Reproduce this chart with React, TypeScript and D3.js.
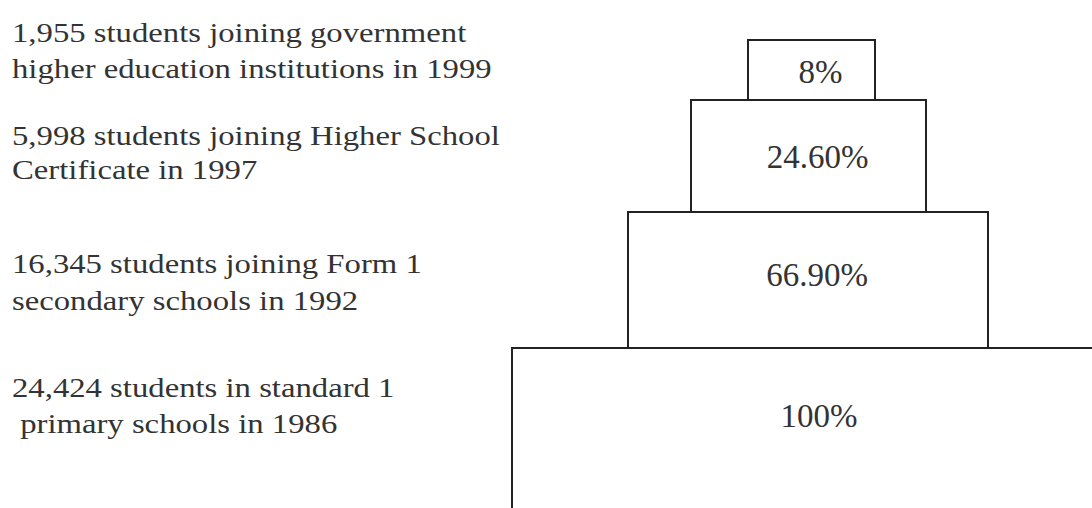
import React from "react";
import * as d3 from "d3";

// ---- data ----
const tiers = ["Higher education 1999", "HSC 1997", "Form 1 1992", "Standard 1 1986"];
const percentValues = [8, 24.6, 66.9, 100];
const percentLabels = ["8%", "24.60%", "66.90%", "100%"];
const descriptionLines: string[][] = [
  ["1,955 students joining government", "higher education institutions in 1999"],
  ["5,998 students joining Higher School", "Certificate in 1997"],
  ["16,345 students joining Form 1", "secondary schools in 1992"],
  ["24,424 students in standard 1", " primary schools in 1986"],
];

const W = 1092;
const H = 508;

export default function App() {
  // vertical tier boundaries (top of each tier, then bottom of last)
  const tierIndex = d3.range(tiers.length + 1);
  const y = d3.scaleLinear().domain(tierIndex).range([40, 100, 212, 348, 530]);
  // half-width of each tier, as drawn in the source figure
  const halfWidth = d3.scaleLinear().domain(percentValues).range([63.5, 117.5, 180, 298]);
  const cx = d3.scaleLinear().domain(percentValues).range([811.5, 808.5, 808, 810]);

  const labelBaselines = [[42, 78], [145, 179], [273, 310], [397, 433]];
  const pctBaselines = [83, 168, 286, 427];

  const stroke = "#222";
  const textColor = "#333";

  return (
    <svg
      width={W}
      height={H}
      style={{ position: "absolute", left: 0, top: 0, background: "#fff" }}
      fontFamily="'Liberation Serif', 'Times New Roman', serif"
    >
      <rect x={0} y={0} width={W} height={H} fill="#fff" />
      {tiers.map((t, i) => {
        const v = percentValues[i];
        const x0 = cx(v) - halfWidth(v);
        const x1 = cx(v) + halfWidth(v);
        const y0 = y(i);
        const y1 = y(i + 1);
        return (
          <rect key={t} x={x0} y={y0} width={x1 - x0} height={y1 - y0} fill="none" stroke={stroke} strokeWidth={2} />
        );
      })}
      {tiers.map((t, i) => {
        const v = percentValues[i];
        return (
          <text
            key={"p" + t}
            x={cx(v) + 9}
            y={pctBaselines[i]}
            textAnchor="middle"
            fontSize={33}
            fill={textColor}
          >
            {percentLabels[i]}
          </text>
        );
      })}
      <g transform="translate(12,0) scale(1.212,1)">
        {descriptionLines.map((lines, i) => (
          <g key={"d" + i}>
            {lines.map((line, j) => (
              <text
                key={j}
                x={0}
                y={labelBaselines[i][j]}
                fontSize={27}
                fill={textColor}
                style={{ whiteSpace: "pre" }}
              >
                {line}
              </text>
            ))}
          </g>
        ))}
      </g>
    </svg>
  );
}
